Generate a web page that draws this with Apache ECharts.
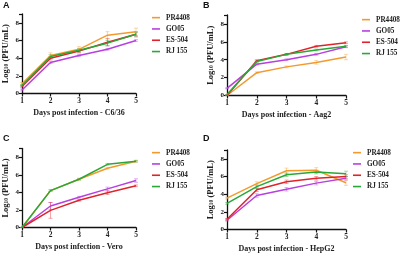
<!DOCTYPE html>
<html>
<head>
<meta charset="utf-8">
<script src="https://cdn.jsdelivr.net/npm/echarts@6/dist/echarts.min.js"></script>
<style>
  html, body { margin: 0; padding: 0; background: #fff; }
  #main { width: 400px; height: 256px; }
</style>
</head>
<body>
<div id="main"></div>
<script>
// days post infection and strains
const days = [1, 2, 3, 4, 5];
const strains = ["PR4408", "GO05", "ES-504", "RJ 155"];
const panelLetters = ["A", "B", "C", "D"];
const cellLines = ["C6/36", "Aag2", "Vero", "HepG2"];
const yTicks = [0, 2, 4, 6, 8];

// log10 titres, one row per strain (same order as strains)
const c636 = [
  [1.1, 4.3, 5.0, 6.6, 7.0],
  [0.4, 3.5, 4.3, 5.0, 6.0],
  [0.8, 4.0, 4.8, 5.8, 6.7],
  [0.9, 4.2, 4.9, 5.7, 6.7]
];
const aag2 = [
  [0.0, 2.55, 3.2, 3.7, 4.3],
  [0.8, 3.5, 4.0, 4.6, 5.45],
  [0.0, 3.9, 4.6, 5.5, 5.9],
  [0.1, 3.8, 4.6, 5.1, 5.5]
];
const vero = [
  [0.0, 4.2, 5.5, 6.75, 7.55],
  [0.0, 2.45, 3.45, 4.4, 5.35],
  [0.0, 1.95, 3.1, 3.95, 4.75],
  [0.0, 4.2, 5.5, 7.2, 7.55]
];
const hepg2 = [
  [3.55, 5.2, 6.65, 6.7, 5.3],
  [1.05, 3.85, 4.55, 5.25, 5.8],
  [1.15, 4.5, 5.4, 5.8, 6.0],
  [2.95, 4.85, 6.2, 6.5, 6.3]
];

// error bar half-widths (same layout)
const c636Err = [
  [0.15, 0.3, 0.3, 0.4, 0.4],
  [0.1, 0.1, 0.1, 0.1, 0.1],
  [0.1, 0.2, 0.2, 0.4, 0.3],
  [0.1, 0.2, 0.2, 0.3, 0.2]
];
const aag2Err = [
  [0, 0.1, 0.1, 0.2, 0.3],
  [0.05, 0.1, 0.1, 0.1, 0.1],
  [0, 0.1, 0.1, 0.1, 0.1],
  [0, 0.1, 0.1, 0.1, 0.1]
];
const veroErr = [
  [0, 0.1, 0.1, 0.1, 0.1],
  [0, 0.4, 0.1, 0.2, 0.2],
  [0, 0.9, 0.1, 0.2, 0.1],
  [0, 0.1, 0.1, 0.1, 0.1]
];
const hepg2Err = [
  [0.1, 0.2, 0.3, 0.3, 0.3],
  [0.1, 0.2, 0.2, 0.2, 0.2],
  [0.1, 0.2, 0.2, 0.2, 0.2],
  [0.1, 0.2, 0.2, 0.2, 0.3]
];

const panels = [c636, aag2, vero, hepg2];
const panelErrs = [c636Err, aag2Err, veroErr, hepg2Err];

const colors = ["#f39a2e", "#b83fe0", "#e0232b", "#2aa835"];
const serif = "'Liberation Serif', 'DejaVu Serif', serif";

// grid boxes (left, top, width, height) in px
const grids = [
  { left: 20, top: 14, width: 116, height: 79.5 },
  { left: 227, top: 15, width: 119, height: 80.5 },
  { left: 20, top: 148.5, width: 116, height: 79 },
  { left: 227, top: 150, width: 119, height: 79.5 }
];
const legendPos = [
  { left: 152, top: 12 },
  { left: 362, top: 14 },
  { left: 152, top: 147 },
  { left: 353, top: 147 }
];
const letterPos = [[3, 1], [203, 1], [3, 134], [203, 134]];

const chart = echarts.init(document.getElementById("main"), null, { renderer: "canvas" });

const option = {
  animation: false,
  color: colors,
  grid: grids.map(g => Object.assign({ containLabel: false }, g)),
  xAxis: grids.map((g, i) => ({
    type: "value",
    gridIndex: i,
    min: 1,
    max: 5,
    interval: 1,
    name: "Days post infection - " + cellLines[i],
    nameLocation: "middle",
    nameGap: 15,
    nameTextStyle: { fontFamily: serif, fontWeight: "bold", fontSize: 8, color: "#222" },
    axisLine: { onZero: false, lineStyle: { color: "#111", width: 1.3 } },
    axisTick: { length: 3, lineStyle: { color: "#111", width: 1.2 } },
    axisLabel: { margin: 4, fontFamily: serif, fontWeight: "bold", fontSize: 7.5, color: "#222" },
    splitLine: { show: false }
  })),
  yAxis: grids.map((g, i) => ({
    type: "value",
    gridIndex: i,
    min: 0,
    max: 9,
    interval: 2,
    name: "Log{s|10} (PFU/mL)",
    nameLocation: "middle",
    nameGap: 12,
    nameTextStyle: {
      fontFamily: serif, fontWeight: "bold", fontSize: 8.5, color: "#222",
      rich: { s: { fontFamily: serif, fontWeight: "bold", fontSize: 5.5, verticalAlign: "bottom", color: "#222" } }
    },
    axisLine: { show: true, lineStyle: { color: "#111", width: 1.3 } },
    axisTick: { show: true, length: 3, lineStyle: { color: "#111", width: 1.2 } },
    axisLabel: {
      margin: 3, fontFamily: serif, fontWeight: "bold", fontSize: 7, color: "#222",
      formatter: v => (yTicks.indexOf(v) >= 0 ? String(v) : "")
    },
    splitLine: { show: false }
  })),
  legend: legendPos.map(p => ({
    left: p.left,
    top: p.top,
    padding: 0,
    orient: "vertical",
    data: strains.map((s, i) => ({ name: s, itemStyle: { color: colors[i] } })),
    icon: "rect",
    itemWidth: 8,
    itemHeight: 1.6,
    itemGap: 0,
    selectedMode: false,
    textStyle: { fontFamily: serif, fontWeight: "bold", fontSize: 7.2, color: "#222", lineHeight: 11.3, padding: [0, 0, 0, 1] }
  })),
  graphic: letterPos.map((p, i) => ({
    type: "text",
    left: p[0],
    top: p[1],
    style: { text: panelLetters[i], font: "bold 9px 'Liberation Sans', Arial, sans-serif", fill: "#111" }
  })),
  series: []
};

panels.forEach((rows, pi) => {
  rows.forEach((vals, si) => {
    const errs = panelErrs[pi][si];
    option.series.push({
      type: "line",
      name: strains[si],
      xAxisIndex: pi,
      yAxisIndex: pi,
      data: days.map((d, k) => [d, vals[k]]),
      showSymbol: false,
      symbol: "none",
      lineStyle: { color: colors[si], width: 1.5 },
      itemStyle: { color: colors[si] },
      z: 2
    });
    // error bars
    option.series.push({
      type: "custom",
      name: strains[si],
      xAxisIndex: pi,
      yAxisIndex: pi,
      silent: true,
      itemStyle: { color: colors[si] },
      data: days.map((d, k) => [d, vals[k] - errs[k], vals[k] + errs[k]]),
      renderItem: (params, api) => {
        const lo = api.coord([api.value(0), api.value(1)]);
        const hi = api.coord([api.value(0), api.value(2)]);
        const cw = 2;
        const st = { stroke: colors[si], lineWidth: 0.8, opacity: 0.5 };
        return {
          type: "group",
          children: [
            { type: "line", shape: { x1: lo[0], y1: lo[1], x2: hi[0], y2: hi[1] }, style: st },
            { type: "line", shape: { x1: lo[0] - cw, y1: lo[1], x2: lo[0] + cw, y2: lo[1] }, style: st },
            { type: "line", shape: { x1: hi[0] - cw, y1: hi[1], x2: hi[0] + cw, y2: hi[1] }, style: st }
          ]
        };
      },
      z: 1
    });
  });
});

chart.setOption(option);
</script>
</body>
</html>
